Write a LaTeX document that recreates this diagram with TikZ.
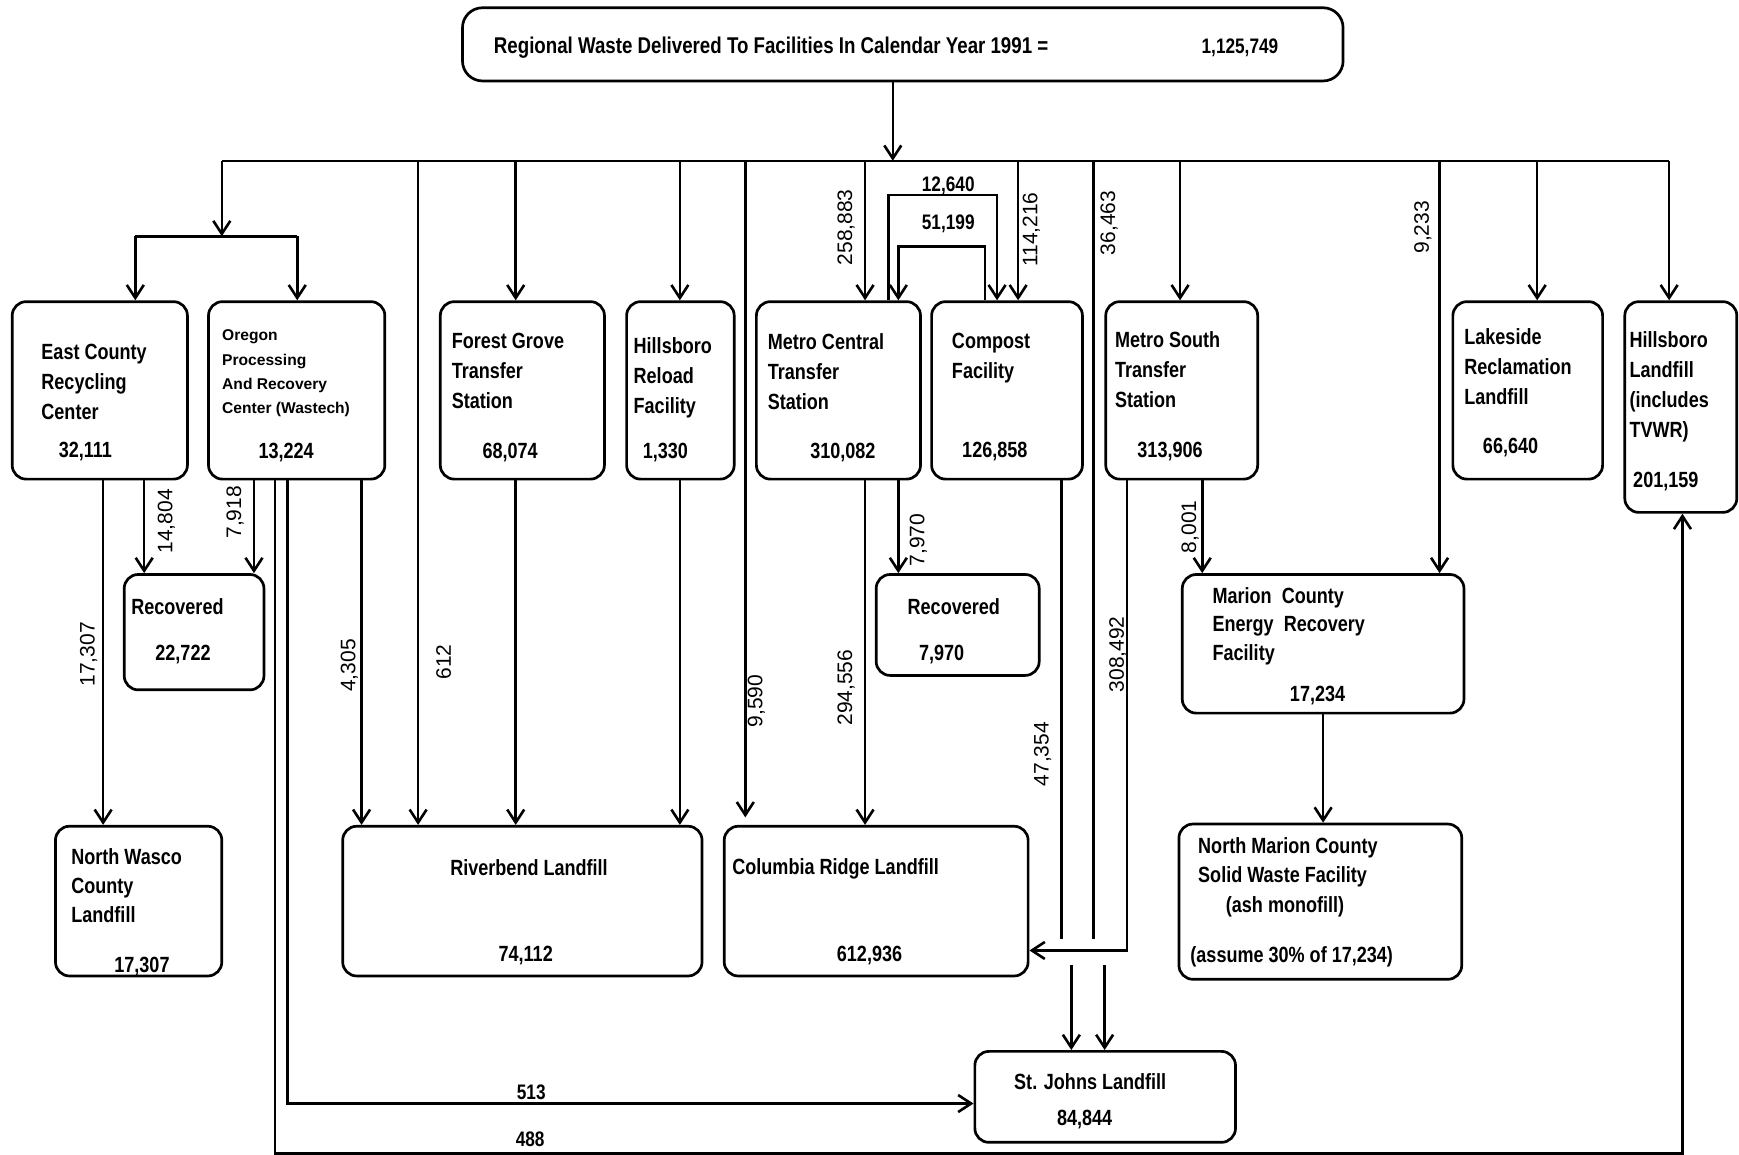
\documentclass[tikz,border=0pt]{standalone}
\usepackage{fontspec}
\setmainfont{Liberation Sans}
\newfontfamily\bxfont{Liberation Sans}[FakeStretch=0.82]
\newfontfamily\lblfont{Liberation Sans}
\usetikzlibrary{arrows.meta,fit}
\begin{document}
\begin{tikzpicture}[x=0.5545pt,y=-0.5545pt,
  box/.style={draw, line width=1.35pt, rounded corners=7pt, inner sep=0pt},
  txt/.style={font=\bxfont\bfseries\fontsize{11}{15}\selectfont, align=left, inner sep=0pt, anchor=north west},
  small/.style={font=\bfseries\fontsize{7.8}{12.2}\selectfont, align=left, inner sep=0pt, anchor=north west},
  num/.style={font=\bxfont\bfseries\fontsize{11}{13}\selectfont, inner sep=0pt, anchor=north},
  lbl/.style={font=\lblfont\fontsize{10.5}{12}\selectfont, rotate=90, inner sep=0pt},
  hlbl/.style={font=\bxfont\bfseries\fontsize{10.5}{12}\selectfont, inner sep=0pt},
  ln/.style={line width=1.3pt},
  arr/.style={line width=1.3pt, -{Straight Barb[length=6.5pt,width=8.5pt,line width=1.3pt]}}]
\useasboundingbox (0,0) rectangle (1568,1041);
% ---------- boxes ----------
\node[box, rounded corners=10pt, fit={(417,7) (1211,73)}] (top) {};
\node[box, fit={(11,272) (169,432)}] (ec) {};
\node[box, fit={(188,272) (347,432)}] (op) {};
\node[box, fit={(397,272) (545,432)}] (fg) {};
\node[box, fit={(565,272) (662,432)}] (hr) {};
\node[box, fit={(682,272) (830,432)}] (mc) {};
\node[box, fit={(840,272) (976,432)}] (cf) {};
\node[box, fit={(997,272) (1134,432)}] (ms) {};
\node[box, fit={(1310,272) (1445,432)}] (lk) {};
\node[box, fit={(1465,272) (1566,462)}] (hl) {};
\node[box, fit={(112,518) (238,622)}] (r1) {};
\node[box, fit={(790,518) (937,609)}] (r2) {};
\node[box, fit={(1066,518) (1320,643)}] (mr) {};
\node[box, fit={(50,745) (200,880)}] (nw) {};
\node[box, fit={(309,745) (633,880)}] (rb) {};
\node[box, fit={(653,745) (927,880)}] (cr) {};
\node[box, fit={(1063,743) (1318,883)}] (nm) {};
\node[box, fit={(879,948) (1114,1030)}] (sj) {};
% ---------- box texts ----------
\node[hlbl, anchor=west, font=\bxfont\bfseries\fontsize{11.4}{13}\selectfont] (toptxt) at (445,43) {Regional Waste Delivered To Facilities In Calendar Year 1991 =};
\node[hlbl] (topnum) at (1118,43) {1,125,749};
\node[txt] (ect) at (37,310) {East County\\Recycling\\Center};
\node[num] (ecn) at (77,398) {32,111};
\node[small] (opt) at (200,297) {Oregon\\Processing\\And Recovery\\Center (Wastech)};
\node[num] (opn) at (258,399) {13,224};
\node[txt] (fgt) at (407,300) {Forest Grove\\Transfer\\Station};
\node[num] (fgn) at (460,399) {68,074};
\node[txt] (hrt) at (571,304) {Hillsboro\\Reload\\Facility};
\node[num] (hrn) at (600,399) {1,330};
\node[txt] (mct) at (692,300) {Metro Central\\Transfer\\Station};
\node[num] (mcn) at (760,399) {310,082};
\node[txt] (cft) at (858,300) {Compost\\Facility};
\node[num] (cfn) at (897,398) {126,858};
\node[txt] (mst) at (1005,299) {Metro South\\Transfer\\Station};
\node[num] (msn) at (1055,398) {313,906};
\node[txt] (lkt) at (1320,296) {Lakeside\\Reclamation\\Landfill};
\node[num] (lkn) at (1362,395) {66,640};
\node[txt] (hlt) at (1469,299) {Hillsboro\\Landfill\\(includes\\TVWR)};
\node[num] (hln) at (1502,425) {201,159};
\node[num] (r1t) at (160,539) {Recovered};
\node[num] (r1n) at (165,581) {22,722};
\node[num] (r2t) at (860,539) {Recovered};
\node[num] (r2n) at (849,581) {7,970};
\node[txt, font=\bxfont\bfseries\fontsize{11}{14.4}\selectfont] (mrt) at (1093,529) {Marion\ \ County\\Energy\ \ Recovery\\Facility};
\node[num] (mrn) at (1188,618) {17,234};
\node[txt, font=\bxfont\bfseries\fontsize{11}{14.4}\selectfont] (nwt) at (64,765) {North Wasco\\County\\Landfill};
\node[num] (nwn) at (128,863) {17,307};
\node[num] (rbt) at (477,775) {Riverbend Landfill};
\node[num] (rbn) at (474,853) {74,112};
\node[txt] (crt) at (660,774) {Columbia Ridge Landfill};
\node[num] (crn) at (784,853) {612,936};
\node[txt, font=\bxfont\bfseries\fontsize{11}{14.4}\selectfont] (nmt) at (1080,755) {North Marion County\\Solid Waste Facility};
\node[txt] (nma) at (1105,808) {(ash monofill)};
\node[txt] (nmb) at (1073,853) {(assume 30\% of 17,234)};
\node[num] (sjt) at (983,968) {St. Johns Landfill};
\node[num] (sjn) at (978,1001) {84,844};
% ---------- distribution bar ----------
\coordinate (busL) at (200,145);
\coordinate (busM) at (805,145);
\coordinate (busR) at (1505,145);
\coordinate (subc) at (200,213);
\coordinate (subL) at (122,213);
\coordinate (subR) at (268,213);
\draw[arr] (top.south -| busM) -- (busM);
\draw[ln] (busL) -- (busR);
\draw[arr] (busL) -- (subc);
\draw[ln] (subL) -- (subR);
\draw[arr] (subL) -- (subL |- ec.north);
\draw[arr] (subR) -- (subR |- op.north);
\draw[arr] (377,0 |- busL) -- (377,0 |- rb.north);
\draw[arr] (465,0 |- busL) -- (465,0 |- fg.north);
\draw[arr] (613,0 |- busL) -- (613,0 |- hr.north);
\draw[arr] (672,0 |- busL) -- (672,737);
\draw[arr] (780,0 |- busL) -- (780,0 |- mc.north);
\draw[arr] (918,0 |- busL) -- (918,0 |- cf.north);
\draw[ln] (986,0 |- busL) -- (986,847);
\draw[arr] (1064,0 |- busL) -- (1064,0 |- ms.north);
\draw[arr] (1298,0 |- busL) -- (1298,0 |- mr.north);
\draw[arr] (1386,0 |- busL) -- (1386,0 |- lk.north);
\draw[arr] (busR) -- (busR |- hl.north);
% exchange loops between Metro Central and Compost
\draw[arr] (801,0 |- mc.north) -- (801,176) -- (899,176) -- (899,0 |- cf.north);
\draw[arr] (888,0 |- cf.north) -- (888,222) -- (810,222) -- (810,0 |- mc.north);
% ---------- lower connectors ----------
\draw[arr] (93,0 |- ec.south) -- (93,0 |- nw.north);
\draw[arr] (130,0 |- ec.south) -- (130,0 |- r1.north);
\draw[arr] (229,0 |- op.south) -- (229,0 |- r1.north);
\draw[arr] (248,0 |- op.south) -- (248,1040) -- (1517,1040) -- (1517,0 |- hl.south);
\draw[arr] (259,0 |- op.south) -- (259,995) -- (sj.west |- 0,995);
\draw[arr] (326,0 |- op.south) -- (326,0 |- rb.north);
\draw[arr] (465,0 |- fg.south) -- (465,0 |- rb.north);
\draw[arr] (613,0 |- hr.south) -- (613,0 |- rb.north);
\draw[arr] (780,0 |- mc.south) -- (780,0 |- cr.north);
\draw[arr] (810,0 |- mc.south) -- (810,0 |- r2.north);
\draw[ln] (957,0 |- cf.south) -- (957,847);
\draw[arr] (1016,0 |- ms.south) -- (1016,857) -- (cr.east |- 0,857);
\draw[arr] (966,870) -- (966,0 |- sj.north);
\draw[arr] (996,870) -- (996,0 |- sj.north);
\draw[arr] (1084,0 |- ms.south) -- (1084,0 |- mr.north);
\draw[arr] (1193,0 |- mr.south) -- (1193,0 |- nm.north);
% ---------- flow labels ----------
\node[lbl] (l258) at (763,205) {258,883};
\node[lbl] (l114) at (930,207) {114,216};
\node[lbl] (l36) at (1000,201) {36,463};
\node[lbl] (l9233) at (1283,205) {9,233};
\node[lbl] (l148) at (150,470) {14,804};
\node[lbl] (l79) at (212,462) {7,918};
\node[lbl] (l173) at (80,590) {17,307};
\node[lbl] (l43) at (315,600) {4,305};
\node[lbl] (l612) at (400,597) {612};
\node[lbl] (l959) at (682,632) {9,590};
\node[lbl] (l294) at (763,620) {294,556};
\node[lbl] (l797) at (828,487) {7,970};
\node[lbl] (l473) at (940,680) {47,354};
\node[lbl] (l308) at (1008,590) {308,492};
\node[lbl] (l80) at (1073,475) {8,001};
\node[hlbl, anchor=base] (l126) at (855,173) {12,640};
\node[hlbl] (l511) at (855,202) {51,199};
\node[hlbl, anchor=base] (l513) at (479,991) {513};
\node[hlbl] (l488) at (478,1027) {488};
\end{tikzpicture}
\end{document}
